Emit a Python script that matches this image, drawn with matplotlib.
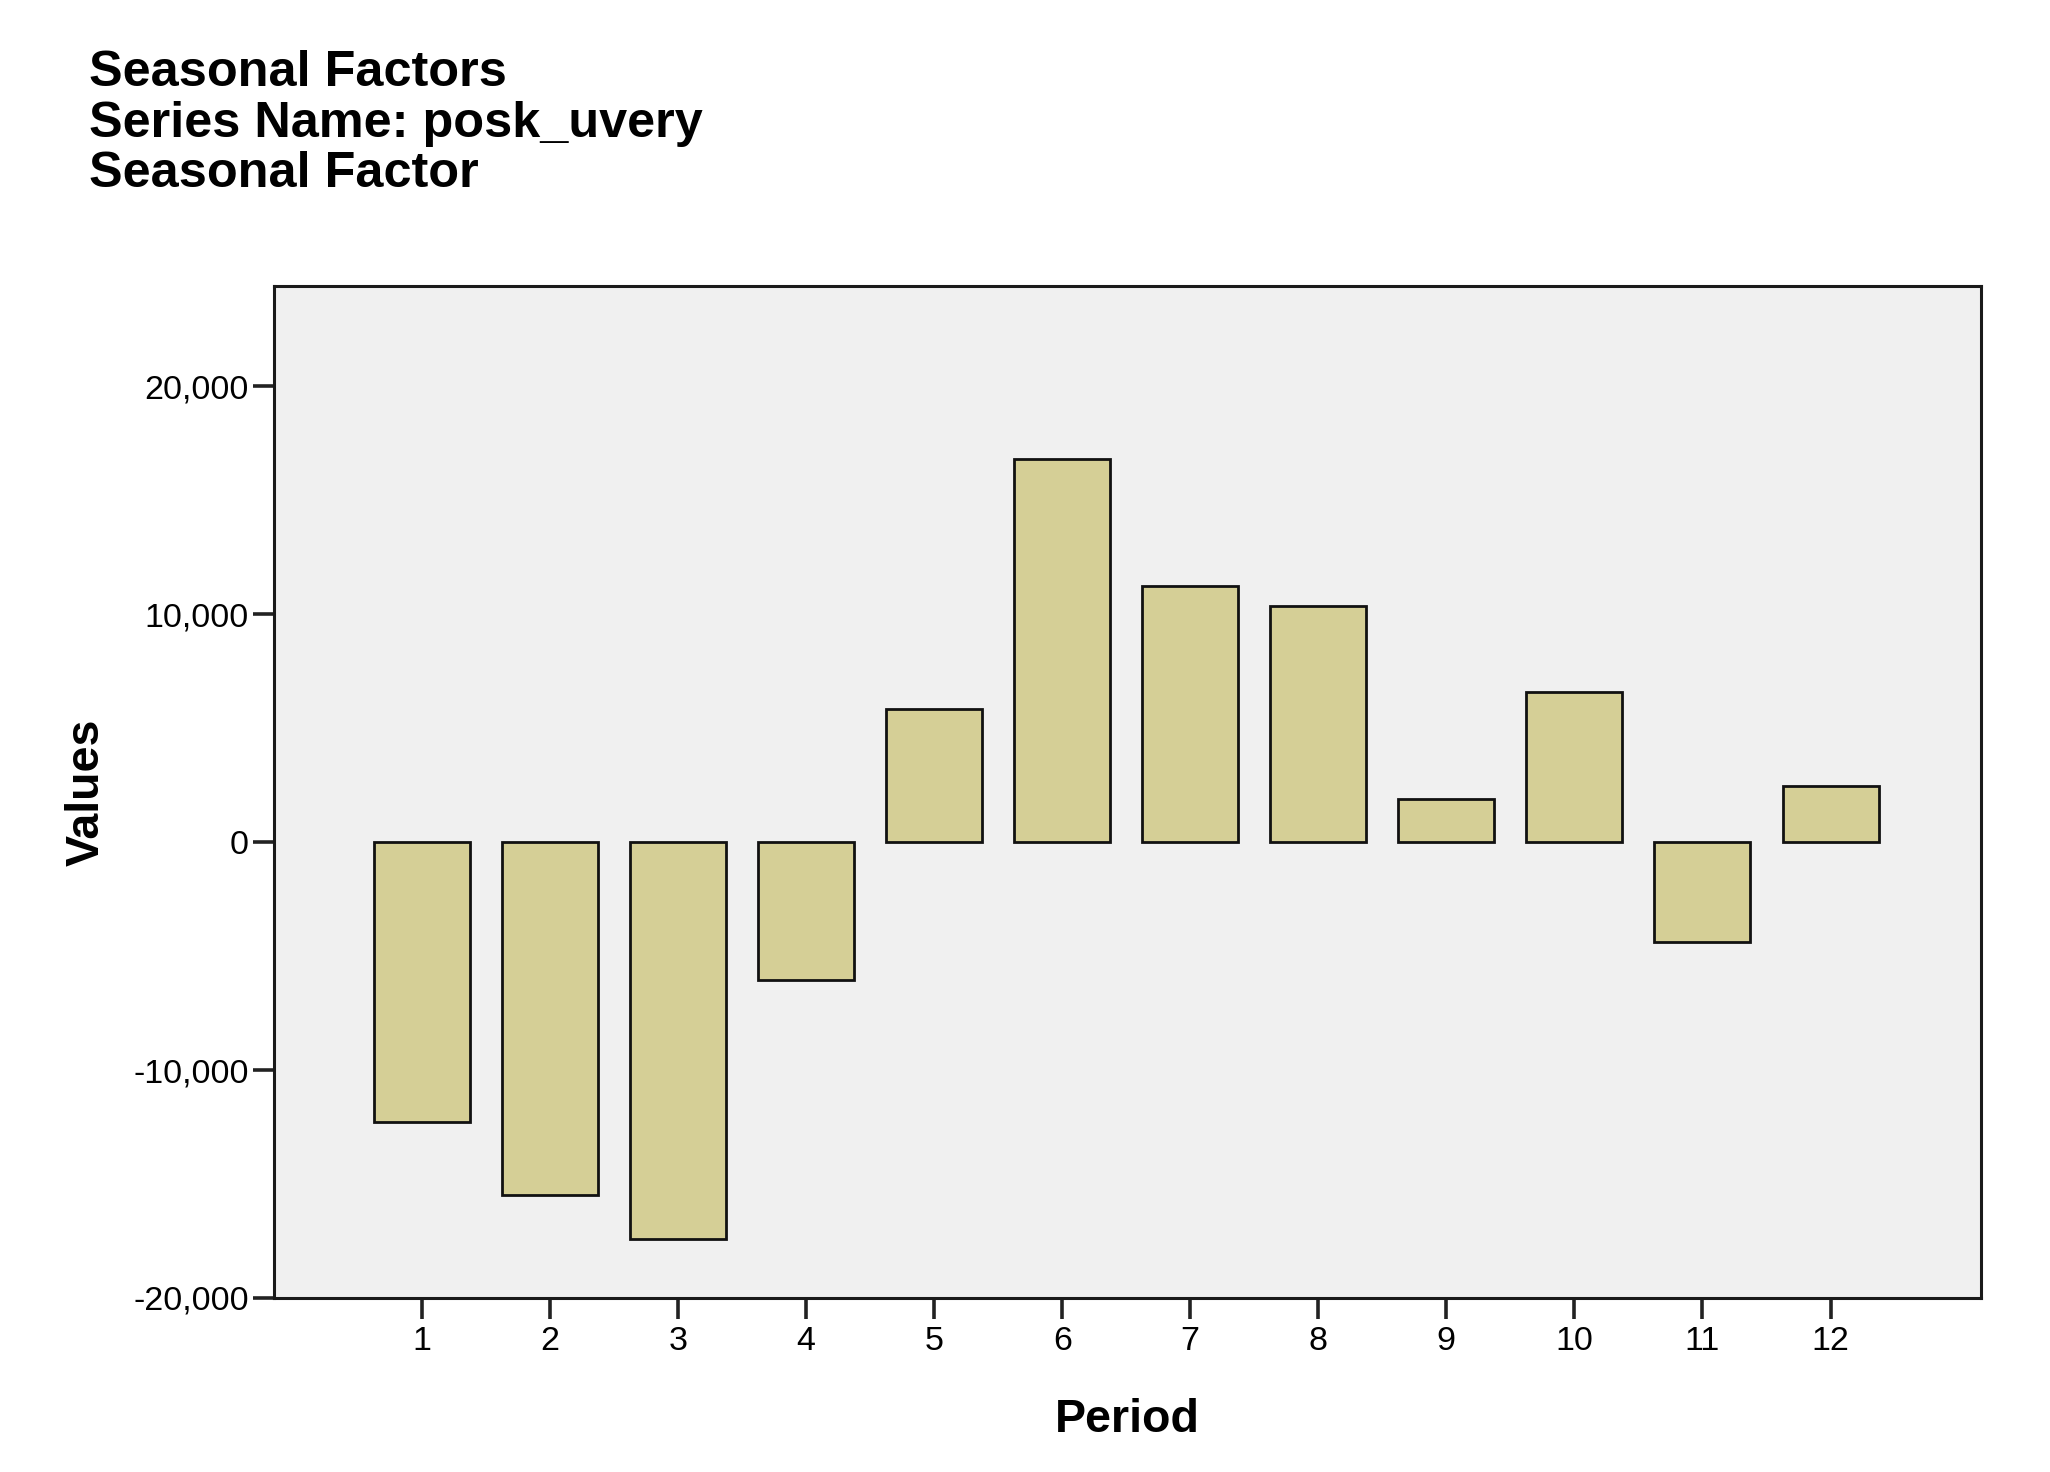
import matplotlib
matplotlib.use('Agg')
import matplotlib.pyplot as plt
from matplotlib.ticker import FuncFormatter

# Seasonal factors
periods = [1, 2, 3, 4, 5, 6, 7, 8, 9, 10, 11, 12]
values = [-12300, -15480, -17410, -6060, 5820, 16830,
          11230, 10350, 1910, 6600, -4360, 2450]
yticks = [-20000, -10000, 0, 10000, 20000]

title_lines = ['Seasonal Factors', 'Series Name: posk_uvery', 'Seasonal Factor']

plt.rcParams['font.family'] = ['Liberation Sans', 'DejaVu Sans']

W, H = 2050, 1472
fig = plt.figure(figsize=(W / 100, H / 100), dpi=100)
fig.patch.set_facecolor('white')

# axes box in pixels: left 274, right 1981, top 286, bottom 1298
ax = fig.add_axes([274 / W, 1 - 1298 / H, (1981 - 274) / W, (1298 - 286) / H])
ax.set_facecolor('#f0f0f0')

ax.bar(periods, values, width=0.75, color='#d5cf96',
       edgecolor='#111111', linewidth=2.0, zorder=3)

ax.set_xlim(-0.155, 13.175)
ax.set_ylim(-20000, 24400)
ax.set_xticks(periods)
ax.set_yticks(yticks)
ax.yaxis.set_major_formatter(FuncFormatter(lambda v, p: f'{int(v):,}'))

for s in ax.spines.values():
    s.set_linewidth(2.2)
    s.set_color('#1a1a1a')

ax.tick_params(axis='both', direction='out', length=15, width=2.6,
               color='#222222', labelsize=24.5, pad=3)
ax.tick_params(axis='x', pad=5)

ax.set_xlabel('Period', fontsize=33.5, fontweight='bold', va='top')
ax.xaxis.set_label_coords(0.5, -0.099)
ax.set_ylabel('Values', fontsize=33.5, fontweight='bold', va='center')
ax.yaxis.set_label_coords(-0.11, 0.5)

# three-line title at the top left
baselines = [86, 137, 187]
for txt, yb in zip(title_lines, baselines):
    fig.text(89 / W, 1 - yb / H, txt, fontsize=36.3, fontweight='bold',
             ha='left', va='baseline')

fig.savefig('out.png', dpi=100)
